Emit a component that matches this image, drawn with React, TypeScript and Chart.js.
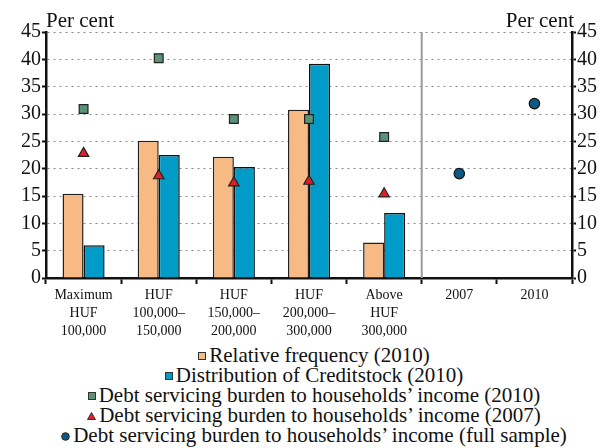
import React, { useEffect, useRef } from "react";
import { Chart, registerables } from "chart.js";

Chart.register(...registerables);

const categories: (string | string[])[] = [
  ["Maximum", "HUF", "100,000"],
  ["HUF", "100,000–", "150,000"],
  ["HUF", "150,000–", "200,000"],
  ["HUF", "200,000–", "300,000"],
  ["Above", "HUF", "300,000"],
  "2007",
  "2010",
];

const relativeFrequency = [15.4, 25.1, 22.2, 30.8, 6.5, null, null];
const creditStock = [6.0, 22.5, 20.3, 39.2, 11.9, null, null];
const burden2010 = [30.9, 40.2, 29.1, 29.1, 25.8, null, null];
const burden2007 = [22.8, 18.7, 17.4, 17.7, 15.4, null, null];
const burdenFull = [null, null, null, null, null, 19.1, 31.9];

const legendLabels = [
  "Relative frequency (2010)",
  "Distribution of Creditstock (2010)",
  "Debt servicing burden to households’ income (2010)",
  "Debt servicing burden to households’ income (2007)",
  "Debt servicing burden to households’ income (full sample)",
];

const C_ORANGE = "#F7BA85";
const C_BLUE = "#009BC7";
const C_GREEN = "#5A9378";
const C_RED = "#E01F26";
const C_NAVY = "#0E5984";
const FONT = "'Liberation Serif', 'Times New Roman', serif";

const W = 603;
const CH = 342;
const AREA_LEFT = 46;
const AREA_RIGHT = 572;
const AREA_TOP = 32;
const AREA_BOTTOM = 278;

const overlayPlugin = {
  id: "overlay",
  beforeDatasetsDraw(chart: any) {
    const ctx = chart.ctx;
    const x = chart.scales.x;
    const { top, bottom } = chart.chartArea;
    const px = (x.getPixelForValue(4) + x.getPixelForValue(5)) / 2;
    ctx.save();
    ctx.strokeStyle = "#9a9a9a";
    ctx.lineWidth = 2;
    ctx.beginPath();
    ctx.moveTo(px, top);
    ctx.lineTo(px, bottom);
    ctx.stroke();
    ctx.restore();
  },
  afterDraw(chart: any) {
    const ctx = chart.ctx;
    const { left, right, top } = chart.chartArea;
    ctx.save();
    ctx.fillStyle = "#111";
    ctx.font = `21px ${FONT}`;
    ctx.textBaseline = "alphabetic";
    ctx.textAlign = "left";
    ctx.fillText("Per cent", left, top - 5);
    ctx.textAlign = "right";
    ctx.fillText("Per cent", right + 2, top - 5);
    ctx.restore();
  },
};

function LegendIcon({ kind }: { kind: number }) {
  const base: React.CSSProperties = {
    display: "inline-block",
    marginRight: 3,
    verticalAlign: "middle",
    position: "relative",
    top: -1,
  };
  if (kind === 0)
    return <span style={{ ...base, width: 6, height: 6, background: C_ORANGE, border: "1px solid #333" }} />;
  if (kind === 1)
    return <span style={{ ...base, width: 6, height: 6, background: C_BLUE, border: "1px solid #333" }} />;
  if (kind === 2)
    return <span style={{ ...base, width: 6, height: 6, background: C_GREEN, border: "1px solid #333" }} />;
  if (kind === 3)
    return (
      <svg width={9} height={8} style={{ ...base }}>
        <polygon points="4.5,0.5 8.5,7.5 0.5,7.5" fill={C_RED} stroke="#333" strokeWidth={1} />
      </svg>
    );
  return (
    <svg width={9} height={9} style={{ ...base }}>
      <circle cx={4.5} cy={4.5} r={3.8} fill={C_NAVY} stroke="#222" strokeWidth={1} />
    </svg>
  );
}

export default function App() {
  const ref = useRef<HTMLCanvasElement | null>(null);

  useEffect(() => {
    document.body.style.margin = "0";
    const canvas = ref.current;
    if (!canvas) return;
    const chart = new Chart(canvas, {
      type: "bar",
      data: {
        labels: categories as any,
        datasets: [
          {
            type: "line",
            label: legendLabels[2],
            data: burden2010 as any,
            showLine: false,
            pointStyle: "rect",
            pointRadius: 6.2,
            pointBackgroundColor: C_GREEN,
            pointBorderColor: "#222",
            pointBorderWidth: 1.2,
            order: 0,
          },
          {
            type: "line",
            label: legendLabels[3],
            data: burden2007 as any,
            showLine: false,
            pointStyle: "triangle",
            pointRadius: 6,
            pointBackgroundColor: C_RED,
            pointBorderColor: "#222",
            pointBorderWidth: 1.2,
            order: 0,
          },
          {
            type: "line",
            label: legendLabels[4],
            data: burdenFull as any,
            showLine: false,
            pointStyle: "circle",
            pointRadius: 5.2,
            pointBackgroundColor: C_NAVY,
            pointBorderColor: "#111",
            pointBorderWidth: 1.2,
            order: 0,
          },
          {
            type: "bar",
            label: legendLabels[0],
            data: relativeFrequency as any,
            backgroundColor: C_ORANGE,
            borderColor: "#222",
            borderWidth: 1.5,
            categoryPercentage: 0.56,
            barPercentage: 1,
            order: 1,
          },
          {
            type: "bar",
            label: legendLabels[1],
            data: creditStock as any,
            backgroundColor: C_BLUE,
            borderColor: "#111",
            borderWidth: 1.5,
            categoryPercentage: 0.56,
            barPercentage: 1,
            order: 1,
          },
        ],
      },
      options: {
        responsive: false,
        animation: false,
        devicePixelRatio: 1,
        layout: { padding: { top: AREA_TOP, left: 0, right: 0, bottom: 0 } },
        plugins: {
          legend: { display: false },
          tooltip: { enabled: false },
        },
        scales: {
          x: {
            grid: {
              display: true,
              drawOnChartArea: false,
              drawTicks: true,
              tickLength: 6,
              tickColor: "#111",
              tickWidth: 2,
              offset: true,
            },
            border: { display: true, color: "#111", width: 2.5 },
            ticks: {
              color: "#111",
              font: { family: FONT, size: 14, lineHeight: 1.3 },
              padding: 2,
              autoSkip: false,
              maxRotation: 0,
              minRotation: 0,
            },
            afterFit(scale: any) {
              scale.height = CH - AREA_BOTTOM;
            },
          },
          y: {
            position: "left",
            min: 0,
            max: 45,
            grid: {
              display: true,
              drawOnChartArea: true,
              color: (c: any) => (c.tick && c.tick.value === 0 ? "rgba(0,0,0,0)" : "#8a8a8a"),
              lineWidth: 1,
              tickLength: 4,
              tickColor: "#111",
              tickWidth: 2,
              tickBorderDash: [],
            } as any,
            border: { display: true, color: "#111", width: 2.5, dash: [2, 4] },
            ticks: {
              stepSize: 5,
              color: "#111",
              font: { family: FONT, size: 20 },
              padding: 1,
            },
            afterFit(scale: any) {
              scale.width = AREA_LEFT;
            },
          },
          y2: {
            position: "right",
            min: 0,
            max: 45,
            grid: {
              display: true,
              drawOnChartArea: false,
              tickLength: 4,
              tickColor: "#111",
              tickWidth: 2,
            },
            border: { display: true, color: "#111", width: 2.5 },
            ticks: {
              stepSize: 5,
              color: "#111",
              font: { family: FONT, size: 20 },
              padding: 1,
            },
            afterFit(scale: any) {
              scale.width = W - AREA_RIGHT;
            },
          },
        },
      },
      plugins: [overlayPlugin],
    } as any);
    return () => chart.destroy();
  }, []);

  return (
    <div style={{ position: "relative", width: W, height: 448, background: "#fff" }}>
      <canvas ref={ref} width={W} height={CH} style={{ display: "block" }} />
      <div
        style={{
          position: "absolute",
          left: AREA_LEFT - 10,
          width: AREA_RIGHT - AREA_LEFT + 30,
          top: 345,
          fontFamily: FONT,
          fontSize: 21,
          lineHeight: "20px",
          color: "#111",
          textAlign: "center",
          whiteSpace: "nowrap",
        }}
      >
        {legendLabels.map((t, i) => (
          <div key={i}>
            <LegendIcon kind={i} />
            {t}
          </div>
        ))}
      </div>
    </div>
  );
}
